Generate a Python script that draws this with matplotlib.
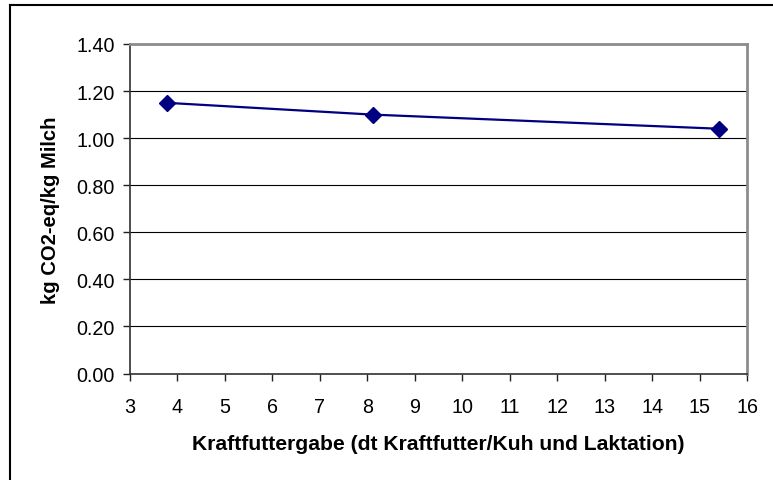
import matplotlib
matplotlib.use("Agg")
import matplotlib.pyplot as plt
from matplotlib.lines import Line2D

# values
kraftfutter = [3.78, 8.11, 15.41]
co2_eq = [1.15, 1.10, 1.04]
x_ticks = list(range(3, 17))
y_ticks = [0.0, 0.2, 0.4, 0.6, 0.8, 1.0, 1.2, 1.4]

plt.rcParams['font.family'] = ['Liberation Sans', 'DejaVu Sans']

fig = plt.figure(figsize=(7.73, 4.81), dpi=100)
ax = fig.add_axes([130 / 773, 1 - 374.5 / 481, 617 / 773, 329.5 / 481])

#horizontal grid
for yv in y_ticks[1:]:
    ax.axhline(yv, color='black', lw=0.8, zorder=1)

ax.plot(kraftfutter, co2_eq, color='#000080', lw=1.6, marker='D',
        markersize=8, markerfacecolor='#000080', markeredgecolor='#000080', zorder=3)

ax.set_xlim(3, 16)
ax.set_ylim(0, 1.4)
ax.set_xticks(x_ticks)
ax.set_yticks(y_ticks)
ax.set_yticklabels(["{:.2f}".format(v) for v in y_ticks])
ax.tick_params(axis='both', labelsize=14.2, length=5, width=1, direction='out', color='#202020')
ax.tick_params(axis='x', pad=12)
ax.tick_params(axis='y', pad=6)

for side in ('top', 'right'):
    ax.spines[side].set_color('#8c8c8c')
    ax.spines[side].set_linewidth(2)
for side in ('left', 'bottom'):
    ax.spines[side].set_color('#303030')
    ax.spines[side].set_linewidth(1.2)

ax.set_xlabel("Kraftfuttergabe (dt Kraftfutter/Kuh und Laktation)", fontsize=15.2,
              fontweight='bold', labelpad=13)
ax.set_ylabel("kg CO2-eq/kg Milch", fontsize=14.6, fontweight='bold', labelpad=12)

#outer chart frame, only left and top edges are visible
fig.add_artist(Line2D([10 / 773, 10 / 773], [0, 1 - 6 / 481], transform=fig.transFigure,
                      color='black', lw=1.5))
fig.add_artist(Line2D([10 / 773, 1], [1 - 6 / 481, 1 - 6 / 481], transform=fig.transFigure,
                      color='black', lw=1.5))

fig.savefig("out.png", dpi=100)
